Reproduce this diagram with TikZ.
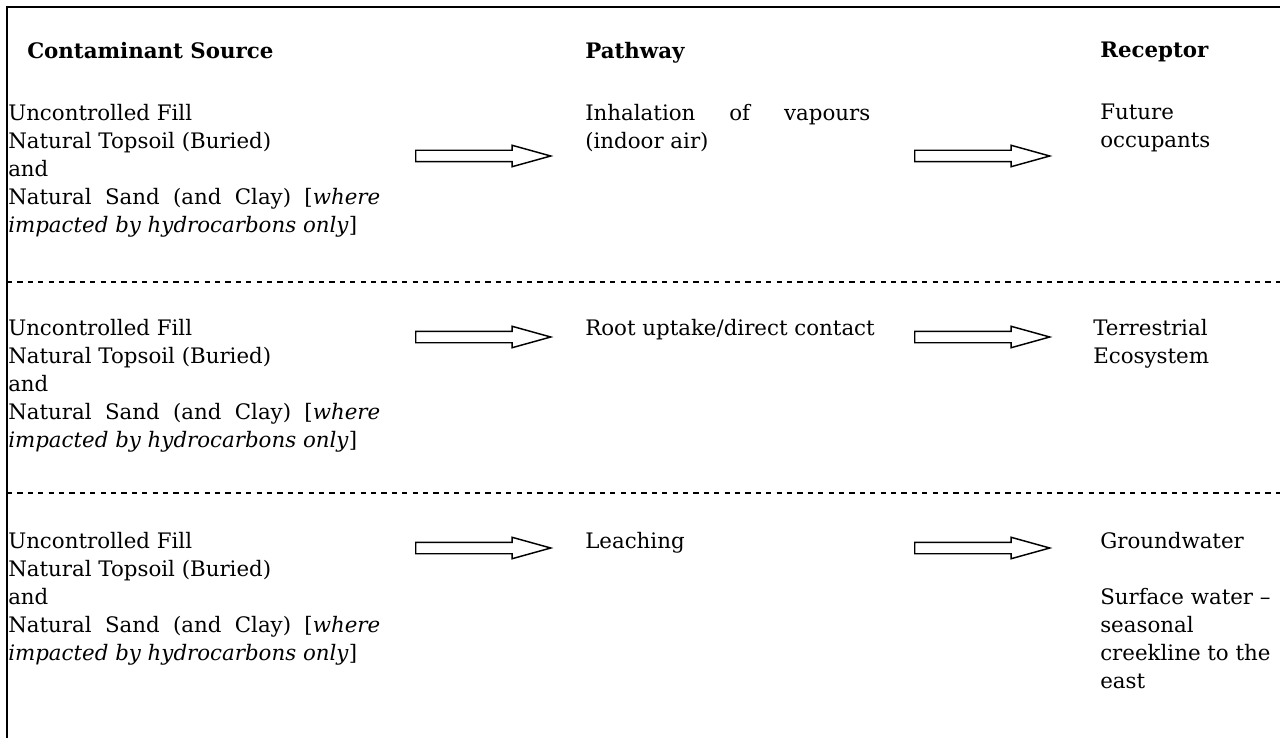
\documentclass[tikz,border=0pt]{standalone}
\usepackage{fontspec}
\setmainfont{DejaVu Serif}
\usetikzlibrary{positioning, shapes.arrows}
\tikzset{
  cell/.style={anchor=north west, inner sep=0pt, align=left,
    font=\fontsize{16}{21}\selectfont},
  hdr/.style={cell, font=\fontsize{16}{21}\selectfont\bfseries},
  flow/.style={draw, single arrow, anchor=tail, inner xsep=0pt,
    inner ysep=3.75pt, minimum height=101.25pt, minimum width=0pt,
    single arrow head extend=3.75pt, single arrow tip angle=31,
    line width=1.1pt},
  rowline/.style={line width=1.5pt, dash pattern=on 3.9pt off 3.9pt},
  x=0.75pt, y=-0.75pt
}
\newcommand{\srctext}{Uncontrolled Fill\\Natural Topsoil (Buried)\\and\\
  \makebox[279pt][s]{Natural Sand (and Clay) [\textit{where}}\\
  \textit{impacted by hydrocarbons only}]}

\begin{document}
\begin{tikzpicture}
  \useasboundingbox (0,0) rectangle (1280,738);

  % frame and row separators
  \draw[line width=1.5pt] (7,738) -- (7,7) -- (1280,7);
  \draw[rowline] (7,282) -- (1280,282);
  \draw[rowline] (7,493) -- (1280,493);

  % headings
  \node[hdr] (hsrc) at (27,42) {Contaminant Source};
  \node[hdr] (hpath) at (585,42) {Pathway};
  \node[hdr] (hrec) at (1100,42) {Receptor};

  % row 1
  \node[cell] (src1) at (8,104) {\srctext};
  \node[cell] (path1) at (585,104) {\makebox[213.75pt][s]{Inhalation of vapours}\\(indoor air)};
  \node[cell] (rec1) at (1100,104) {Future\\occupants};
  \node[flow] (a1) at (415,156) {};
  \node[flow] (b1) at (914,156) {};

  % row 2
  \node[cell] (src2) at (8,319) {\srctext};
  \node[cell] (path2) at (585,319) {Root uptake/direct contact};
  \node[cell] (rec2) at (1093,319) {Terrestrial\\Ecosystem};
  \node[flow] (a2) at (415,337) {};
  \node[flow] (b2) at (914,337) {};

  % row 3
  \node[cell] (src3) at (8,532) {\srctext};
  \node[cell] (path3) at (585,532) {Leaching};
  \node[cell] (rec3) at (1100,532) {Groundwater\\[21pt]Surface water --\\seasonal\\creekline to the\\east};
  \node[flow] (a3) at (415,548) {};
  \node[flow] (b3) at (914,548) {};
\end{tikzpicture}
\end{document}
